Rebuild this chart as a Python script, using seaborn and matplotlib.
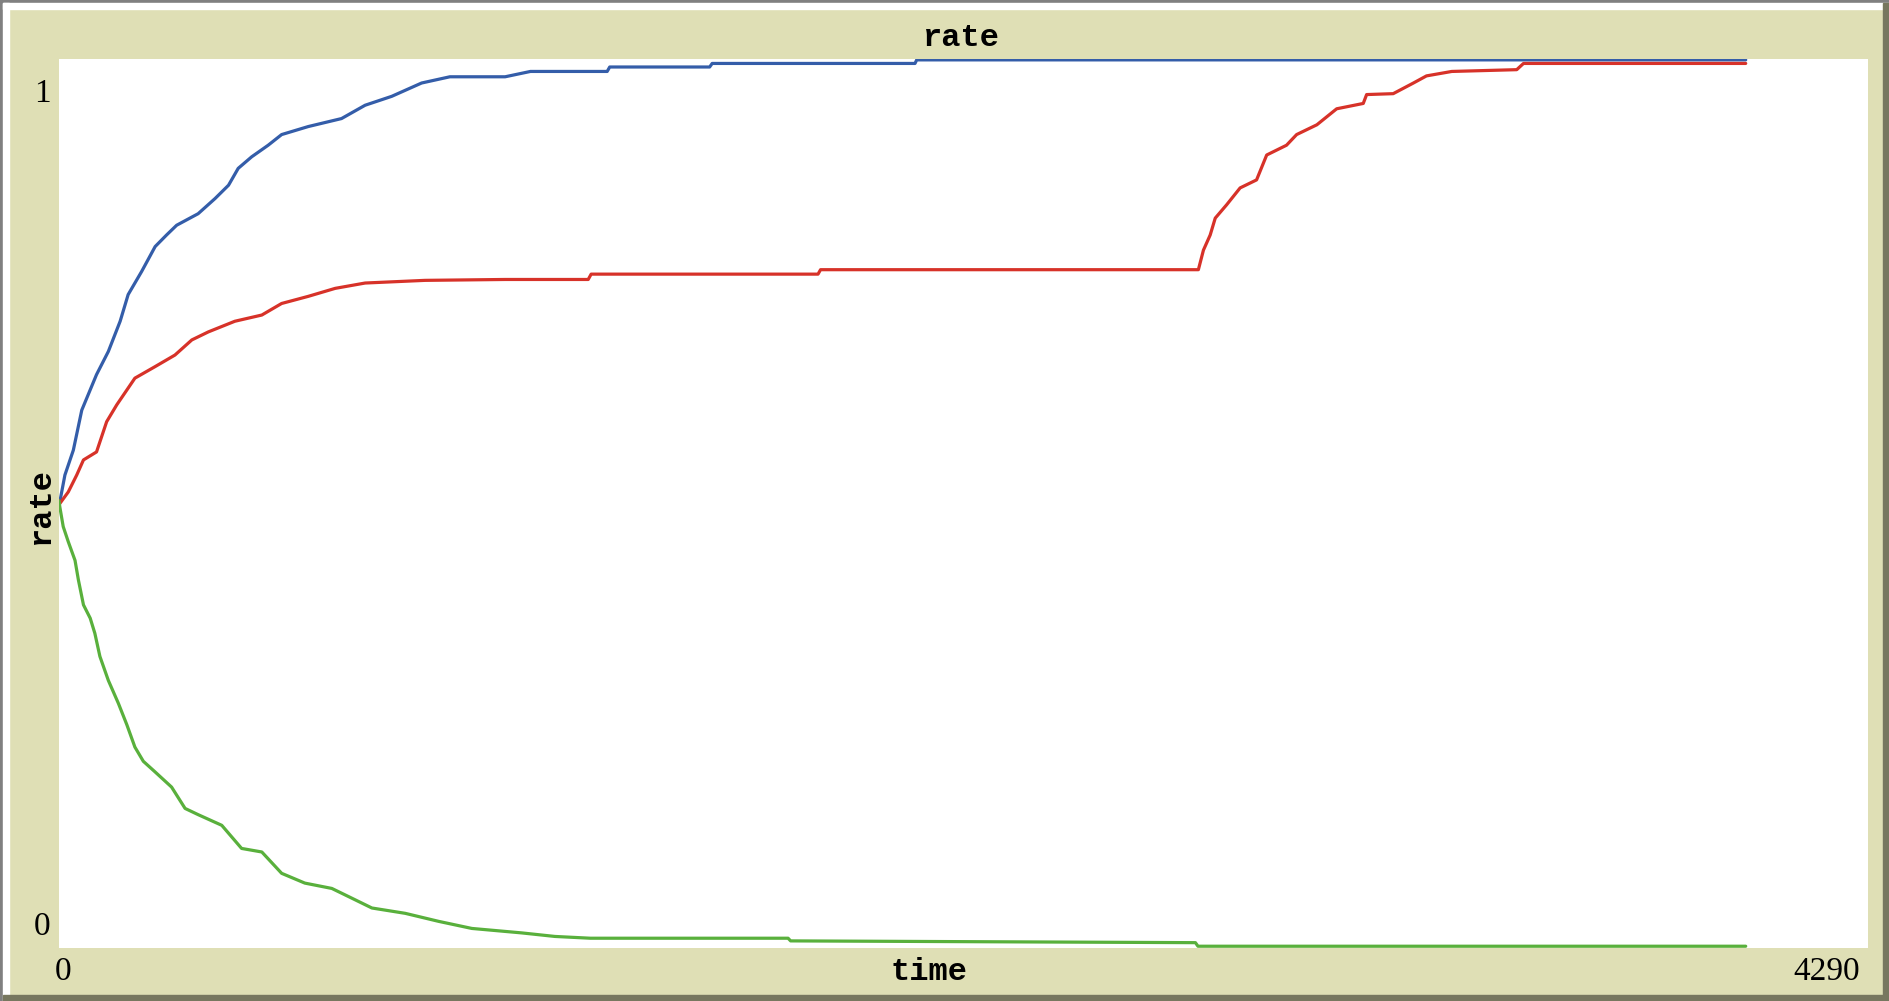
import matplotlib
matplotlib.use('Agg')
from matplotlib import pyplot as plt
from matplotlib.patches import Rectangle
import pandas as pd
import seaborn as sns

# readings from the reference (time, rate)
blue_t = [0, 2, 14, 34, 54, 89, 117, 145, 164, 196, 228, 255, 279, 330, 370, 402, 425,
          457, 496, 528, 591, 670, 726, 789, 860, 927, 1058, 1118, 1300, 1306, 1543,
          1549, 2030, 2034, 4000]
blue_v = [0.503, 0.502, 0.532, 0.560, 0.605, 0.645, 0.671, 0.705, 0.735, 0.761, 0.789,
          0.802, 0.813, 0.826, 0.843, 0.858, 0.877, 0.890, 0.903, 0.915, 0.924, 0.933,
          0.948, 0.958, 0.973, 0.980, 0.980, 0.986, 0.986, 0.991, 0.991, 0.995, 0.995,
          0.999, 0.999]

red_t = [0, 2, 22, 42, 58, 89, 113, 137, 180, 228, 275, 315, 354, 417, 481, 528, 591,
         655, 726, 868, 1058, 1255, 1262, 1800, 1806, 2702, 2714, 2730, 2742, 2769, 2801,
         2840, 2864, 2911, 2935, 2983, 3030, 3093, 3101, 3164, 3212, 3243, 3303, 3457,
         3473, 4000]
red_v = [0.503, 0.500, 0.513, 0.532, 0.549, 0.558, 0.592, 0.611, 0.641, 0.654, 0.667,
         0.684, 0.693, 0.705, 0.712, 0.725, 0.733, 0.742, 0.748, 0.751, 0.752, 0.752,
         0.758, 0.758, 0.763, 0.763, 0.785, 0.802, 0.821, 0.836, 0.855, 0.864, 0.892,
         0.903, 0.915, 0.926, 0.944, 0.950, 0.960, 0.961, 0.973, 0.981, 0.986, 0.988,
         0.995, 0.995]

green_t = [0, 2, 10, 22, 38, 46, 58, 74, 85, 97, 117, 141, 161, 180, 200, 228, 267,
           299, 330, 386, 433, 481, 528, 583, 647, 686, 742, 821, 900, 979, 1097, 1176,
           1260, 1729, 1735, 2695, 2701, 4000]
green_v = [0.503, 0.496, 0.474, 0.457, 0.436, 0.414, 0.386, 0.371, 0.354, 0.328, 0.301,
           0.275, 0.251, 0.226, 0.210, 0.198, 0.181, 0.157, 0.150, 0.138, 0.112, 0.108,
           0.084, 0.073, 0.067, 0.058, 0.045, 0.039, 0.030, 0.022, 0.017, 0.013, 0.011,
           0.011, 0.008, 0.006, 0.002, 0.002]

x_max = 4290
W, H = 1890, 1001
beige = '#dfdfb5'

df = pd.concat([
    pd.DataFrame({'time': blue_t, 'rate': blue_v, 'series': 'blue'}),
    pd.DataFrame({'time': red_t, 'rate': red_v, 'series': 'red'}),
    pd.DataFrame({'time': green_t, 'rate': green_v, 'series': 'green'}),
])

sns.set_style('white')
plt.rcParams['font.family'] = ['Liberation Serif', 'DejaVu Sans']

fig = plt.figure(figsize=(W / 100, H / 100), dpi=100, facecolor=beige)

def px_rect(x0, y0, x1, y1, color):
    fig.patches.append(Rectangle((x0 / W, 1 - y1 / H), (x1 - x0) / W, (y1 - y0) / H,
                                 transform=fig.transFigure, color=color, zorder=0))

# frame like the NetLogo widget
px_rect(0, 0, W, 3, '#808080')
px_rect(0, 0, 3, H, '#808080')
px_rect(3, 3, W, 9, 'white')
px_rect(3, 3, 9, H, 'white')
px_rect(1883, 3, W, H, '#77775f')
px_rect(3, 995, W, H, '#77775f')

ax = fig.add_axes([59 / W, 1 - 948 / H, (1868 - 59) / W, (948 - 59) / H])
ax.set_facecolor('white')
sns.lineplot(data=df, x='time', y='rate', hue='series', estimator=None, sort=False,
             palette={'blue': '#345da9', 'red': '#d73229', 'green': '#59b03c'},
             linewidth=2.3, legend=False, ax=ax)
ax.set_xlim(0, x_max)
ax.set_ylim(0, 1)
ax.set_xticks([])
ax.set_yticks([])
ax.set_xlabel('')
ax.set_ylabel('')
for s in ax.spines.values():
    s.set_visible(False)

mono = dict(family='Liberation Mono', fontweight='bold', fontsize=23, color='black')
fig.text(961 / W, 1 - 38 / H, 'rate', ha='center', va='center', **mono)
fig.text(929 / W, 1 - 972 / H, 'time', ha='center', va='center', **mono)
fig.text(41 / W, 1 - 506 / H, 'rate', ha='center', va='center', rotation=90, **mono)

num = dict(fontsize=24, color='black')
fig.text(42 / W, 1 - 94 / H, '1', ha='center', va='center', **num)
fig.text(42 / W, 1 - 927 / H, '0', ha='center', va='center', **num)
fig.text(63 / W, 1 - 972 / H, '0', ha='center', va='center', **num)
fig.text(1860 / W, 1 - 972 / H, '4290', ha='right', va='center', **num)

fig.savefig('out.png', dpi=100, facecolor=beige)
